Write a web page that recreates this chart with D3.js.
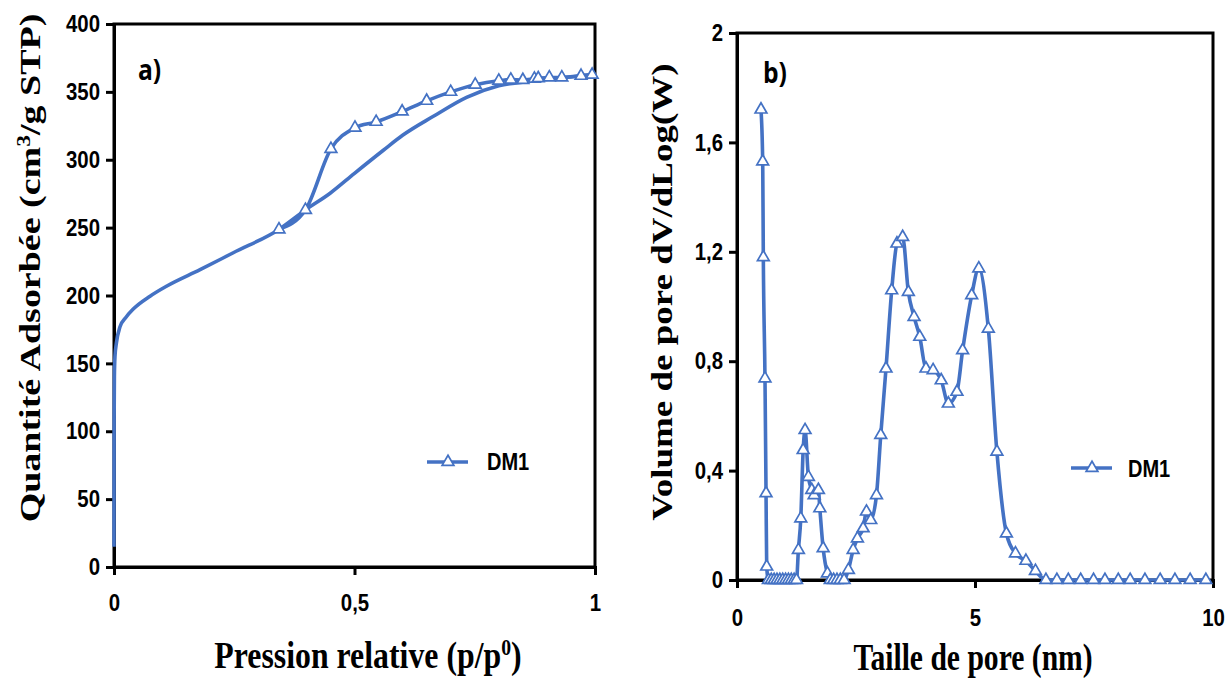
<!DOCTYPE html>
<html><head><meta charset="utf-8">
<script src="https://cdn.jsdelivr.net/npm/d3@7"></script>
<style>
body{margin:0;background:#fff;}
svg{display:block;}
</style></head>
<body>
<svg id="c" width="1228" height="679"></svg>
<script>
// ---------- Data ----------
// Panel a) isotherm
const adsP = [0, 0.0003, 0.0008, 0.002, 0.005, 0.0125, 0.025, 0.04, 0.075, 0.11, 0.179, 0.248, 0.343, 0.398, 0.45, 0.5, 0.56, 0.6, 0.664, 0.733, 0.8, 0.871, 0.93, 1.0];
const adsV = [15, 110, 140, 155, 165, 177, 184, 190, 199.5, 207, 219, 231.5, 248.7, 263, 275.5, 290, 307, 318, 332, 346, 354.5, 358, 360.5, 363];
const desP = [0.343, 0.398, 0.451, 0.501, 0.545, 0.599, 0.65, 0.70, 0.751, 0.80, 0.825, 0.85, 0.874, 0.882, 0.905, 0.931, 0.971, 0.994];
const desV = [248.7, 263, 308, 323.6, 327.9, 335.5, 343.4, 350, 355.3, 358.2, 359, 358.7, 359.7, 360, 360.6, 360.6, 361.8, 362.6];
const aXTicks = [0, 0.5, 1];
const aXLabels = ["0", "0,5", "1"];
const aYTicks = [0, 50, 100, 150, 200, 250, 300, 350, 400];

// Panel b) pore size distribution
const poreD = [0.504, 0.54, 0.553, 0.588, 0.61, 0.624, 0.66, 0.72, 0.78, 0.84, 0.90, 0.96, 1.02, 1.08, 1.14, 1.2, 1.25, 1.29, 1.34, 1.39, 1.43, 1.50, 1.57, 1.62, 1.71, 1.74, 1.81, 1.90, 1.96, 2.03, 2.10, 2.17, 2.25, 2.34, 2.44, 2.53, 2.65, 2.72, 2.81, 2.93, 3.02, 3.13, 3.25, 3.36, 3.48, 3.60, 3.72, 3.84, 3.97, 4.12, 4.29, 4.44, 4.62, 4.74, 4.93, 5.08, 5.28, 5.46, 5.66, 5.85, 6.07, 6.27, 6.49, 6.72, 6.96, 7.22, 7.49, 7.73, 8.01, 8.26, 8.57, 8.89, 9.20, 9.52, 9.85];
const poreV = [1.72, 1.53, 1.18, 0.737, 0.317, 0.049, 0, 0, 0, 0, 0, 0, 0, 0, 0, 0, 0, 0.11, 0.225, 0.475, 0.548, 0.377, 0.329, 0.31, 0.329, 0.262, 0.116, 0.024, 0, 0, 0, 0, 0, 0.037, 0.11, 0.152, 0.189, 0.25, 0.219, 0.31, 0.53, 0.773, 1.059, 1.23, 1.254, 1.053, 0.962, 0.889, 0.773, 0.767, 0.73, 0.645, 0.688, 0.84, 1.041, 1.139, 0.919, 0.469, 0.17, 0.097, 0.07, 0.033, 0, 0, 0, 0, 0, 0, 0, 0, 0, 0, 0, 0, 0];
const bXTicks = [0, 5, 10];
const bYTicks = [0, 0.4, 0.8, 1.2, 1.6, 2];
const bYLabels = ["0", "0,4", "0,8", "1,2", "1,6", "2"];
const seriesName = "DM1";

// ---------- Drawing ----------
const svg = d3.select("#c");
const BLUE = "#4472C4";
const tri = d3.symbol().type(d3.symbolTriangle).size(60);

function panel(o) {
  const g = svg.append("g");
  const x = d3.scaleLinear().domain(o.xDom).range(o.xRange);
  const y = d3.scaleLinear().domain(o.yDom).range(o.yRange);
  g.append("rect").attr("x", o.xRange[0]).attr("y", o.yRange[1])
    .attr("width", o.xRange[1] - o.xRange[0]).attr("height", o.yRange[0] - o.yRange[1])
    .attr("fill", "none").attr("stroke", "#000").attr("stroke-width", 3);
  const ya = g.append("g").attr("transform", `translate(${o.xRange[0]},0)`)
    .call(d3.axisLeft(y).tickValues(o.yTicks).tickSize(8).tickPadding(6)
      .tickFormat((d, i) => o.yLabels ? o.yLabels[i] : String(d)));
  const xa = g.append("g").attr("transform", `translate(0,${o.yRange[0]})`)
    .call(d3.axisBottom(x).tickValues(o.xTicks).tickSize(8).tickPadding(o.xPad)
      .tickFormat((d, i) => o.xLabels ? o.xLabels[i] : String(d)));
  [ya, xa].forEach(a => {
    a.select(".domain").attr("stroke-width", 3);
    a.selectAll(".tick line").attr("stroke-width", 3);
    a.selectAll("text").attr("font-family", "Liberation Sans, Arial, sans-serif")
      .attr("font-weight", "bold").attr("font-size", 24).attr("fill", "#000")
      .each(function () {
        const t = d3.select(this);
        t.attr("x", (+t.attr("x") || 0) / 0.85).attr("transform", "scale(0.85,1)");
      });
  });
  return {g, x, y};
}

function series(p, xs, ys, curve) {
  const pts = xs.map((d, i) => [p.x(d), p.y(ys[i])]);
  p.g.append("path").attr("d", d3.line().curve(curve)(pts))
    .attr("fill", "none").attr("stroke", BLUE).attr("stroke-width", 3.6).attr("stroke-linejoin", "round");
  return pts;
}
function markers(p, pts) {
  p.g.selectAll(null).data(pts).enter().append("path")
    .attr("d", tri).attr("transform", d => `translate(${d[0]},${d[1]})`)
    .attr("fill", "#fff").attr("stroke", BLUE).attr("stroke-width", 1.7);
}
function legend(g, x0, y0, tx, ty) {
  g.append("line").attr("x1", x0).attr("x2", x0 + 41).attr("y1", y0).attr("y2", y0)
    .attr("stroke", BLUE).attr("stroke-width", 3.6);
  g.append("path").attr("d", tri).attr("transform", `translate(${x0 + 21},${y0})`)
    .attr("fill", "#fff").attr("stroke", BLUE).attr("stroke-width", 1.7);
  g.append("text").attr("transform", `translate(${tx},${ty}) scale(0.87,1)`).text(seriesName)
    .attr("font-family", "Liberation Sans, Arial, sans-serif").attr("font-weight", "bold")
    .attr("font-size", 23).attr("fill", "#000");
}
function title(txt, x, y, rot, fs, sx) {
  const tf = rot ? `translate(${x},${y}) rotate(${rot}) scale(1,${sx})` : `translate(${x},${y}) scale(${sx},1)`;
  const t = svg.append("text").attr("transform", tf)
    .attr("text-anchor", "middle")
    .attr("font-family", "Liberation Serif, Times New Roman, serif").attr("font-weight", "bold")
    .attr("font-size", fs).attr("fill", "#000");
  txt.forEach(part => {
    const s = t.append("tspan").text(part.t);
    if (part.sup) s.attr("baseline-shift", "super").attr("font-size", fs * 0.62);
  });
}
function panelLabel(txt, x, y) {
  svg.append("text").attr("transform", `translate(${x},${y}) scale(0.88,1)`).text(txt)
    .attr("font-family", "Open Sans, Liberation Sans, sans-serif").attr("font-weight", "bold")
    .attr("font-size", 28).attr("fill", "#000");
}

// Panel a
const A = panel({xDom: [0, 1], xRange: [114, 595], yDom: [0, 400], yRange: [567, 24],
  yTicks: aYTicks, xTicks: aXTicks, xLabels: aXLabels, xPad: 19});
series(A, adsP, adsV, d3.curveMonotoneX);
const dpts = series(A, desP, desV, d3.curveMonotoneX);
markers(A, dpts);
legend(A.g, 427, 462, 487, 470);
panelLabel("a)", 138, 80);

// Panel b
const B = panel({xDom: [0, 10], xRange: [737, 1213], yDom: [0, 2], yRange: [580, 33],
  yTicks: bYTicks, yLabels: bYLabels, xTicks: bXTicks, xPad: 21});
const ppts = series(B, poreD, poreV, d3.curveMonotoneX);
markers(B, ppts);
legend(B.g, 1071, 468, 1128, 477);
panelLabel("b)", 763, 83);

// Axis titles
title([{t: "Quantité Adsorbée (cm"}, {t: "3", sup: true}, {t: "/g STP)"}], 40, 268, -90, 38, 0.78);
title([{t: "Volume de pore dV/dLog(W)"}], 672, 292, -90, 37, 0.78);
title([{t: "Pression relative (p/p"}, {t: "0", sup: true}, {t: ")"}], 368, 668, 0, 37, 0.86);
title([{t: "Taille de pore (nm)"}], 973, 670, 0, 37, 0.8);
</script>
</body></html>
